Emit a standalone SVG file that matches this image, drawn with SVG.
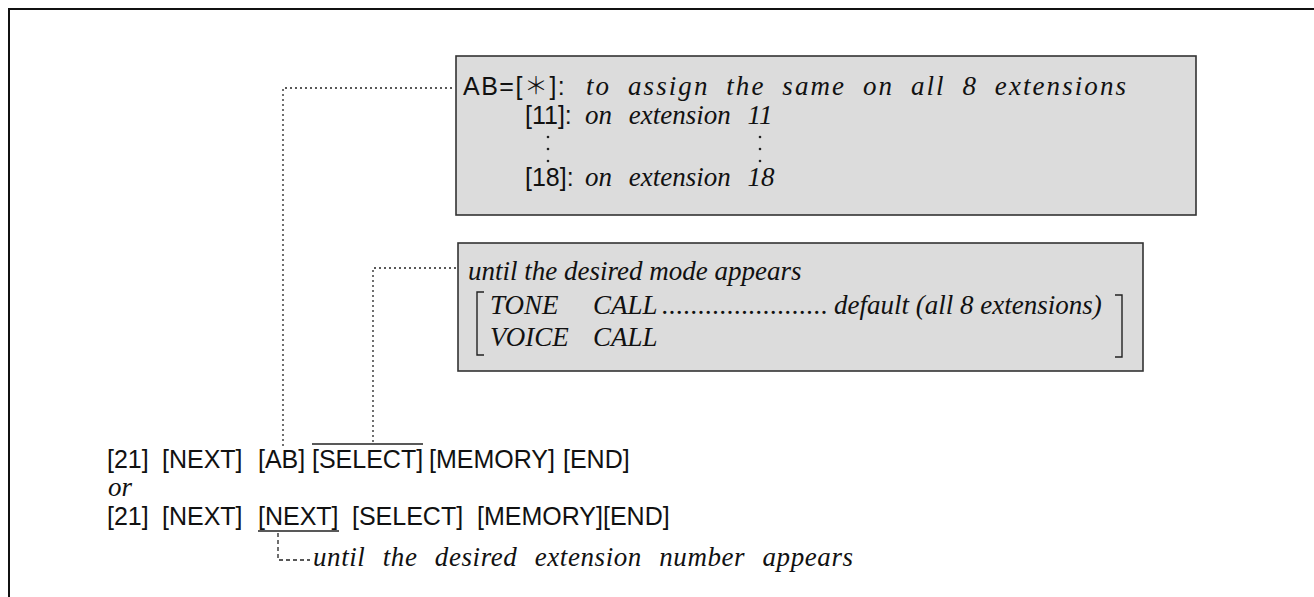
<svg xmlns="http://www.w3.org/2000/svg" width="1314" height="597" viewBox="0 0 1314 597">
<style>
.s{font-family:"Liberation Sans",Arial,sans-serif;font-size:25px;fill:#111}
.i{font-family:"Liberation Serif","Times New Roman",serif;font-style:italic;font-size:27px;fill:#111}
.box{fill:#dcdcdc;stroke:#333;stroke-width:1.6}
.dot{fill:none;stroke:#222;stroke-width:1.3;stroke-dasharray:2 3}
.dash{fill:none;stroke:#222;stroke-width:1.3;stroke-dasharray:4 3}
.ln{fill:none;stroke:#222;stroke-width:1.4}
</style>
<rect width="1314" height="597" fill="#fff"/>
<g id="frame"><path d="M9 597 V9 H1314" fill="none" stroke="#111" stroke-width="2"/></g>
<g id="box-ab">
<rect class="box" x="456" y="56" width="740" height="159"/>
<text class="s" x="463" y="95" letter-spacing="1.5">AB=[<tspan font-family="'Noto Sans CJK JP','DejaVu Sans',sans-serif" font-size="24" font-weight="300" dy="-1">＊</tspan><tspan dy="1">]:</tspan></text>
<text class="i" x="586" y="95" textLength="540" lengthAdjust="spacing" word-spacing="8">to assign the same on all 8 extensions</text>
<text class="s" x="525" y="124">[11]:</text>
<text class="i" x="585" y="124" word-spacing="10">on extension 11</text>
<text class="s" x="525" y="186">[18]:</text>
<text class="i" x="585" y="186" word-spacing="10">on extension 18</text>
<g fill="#222"><circle cx="548" cy="137" r="1.3"/><circle cx="548" cy="149" r="1.3"/><circle cx="548" cy="161" r="1.3"/><circle cx="760" cy="137" r="1.3"/><circle cx="760" cy="149" r="1.3"/><circle cx="760" cy="161" r="1.3"/></g>
</g>
<g id="box-mode">
<rect class="box" x="458" y="243" width="685" height="128"/>
<text class="i" x="468" y="280">until the desired mode appears</text>
<path class="ln" d="M484 292 H477 V355 H484"/>
<text class="i" x="490" y="314">TONE</text>
<text class="i" x="593" y="314">CALL</text>
<text class="i" x="662" y="314" textLength="166" lengthAdjust="spacing">.......................</text>
<text class="i" x="834" y="314">default (all 8 extensions)</text>
<text class="i" x="490" y="346">VOICE</text>
<text class="i" x="593" y="346">CALL</text>
<path class="ln" d="M1115 295 H1122 V357 H1115"/>
</g>
<g id="sequence">
<text class="s" x="107" y="468">[21]</text>
<text class="s" x="162" y="468">[NEXT]</text>
<text class="s" x="258" y="468">[AB]</text>
<text class="s" x="312" y="468">[SELECT]</text>
<text class="s" x="429" y="468">[MEMORY]</text>
<text class="s" x="563" y="468">[END]</text>
<text class="i" x="108" y="496">or</text>
<text class="s" x="107" y="525">[21]</text>
<text class="s" x="162" y="525">[NEXT]</text>
<text class="s" x="258" y="525">[NEXT]</text>
<text class="s" x="352" y="525">[SELECT]</text>
<text class="s" x="477" y="525">[MEMORY]</text>
<text class="s" x="603" y="525">[END]</text>
<text class="i" x="313" y="566" textLength="540" lengthAdjust="spacing" word-spacing="10">until the desired extension number appears</text>
</g>
<g id="connectors">
<path class="dot" d="M452 88 H283 V446"/>
<path class="dot" d="M456 268 H373 V442"/>
<path class="ln" d="M312 444 H423"/>
<path class="ln" d="M258 531 H339"/>
<path class="dash" d="M278 533 V560 H310"/>
</g>
</svg>
